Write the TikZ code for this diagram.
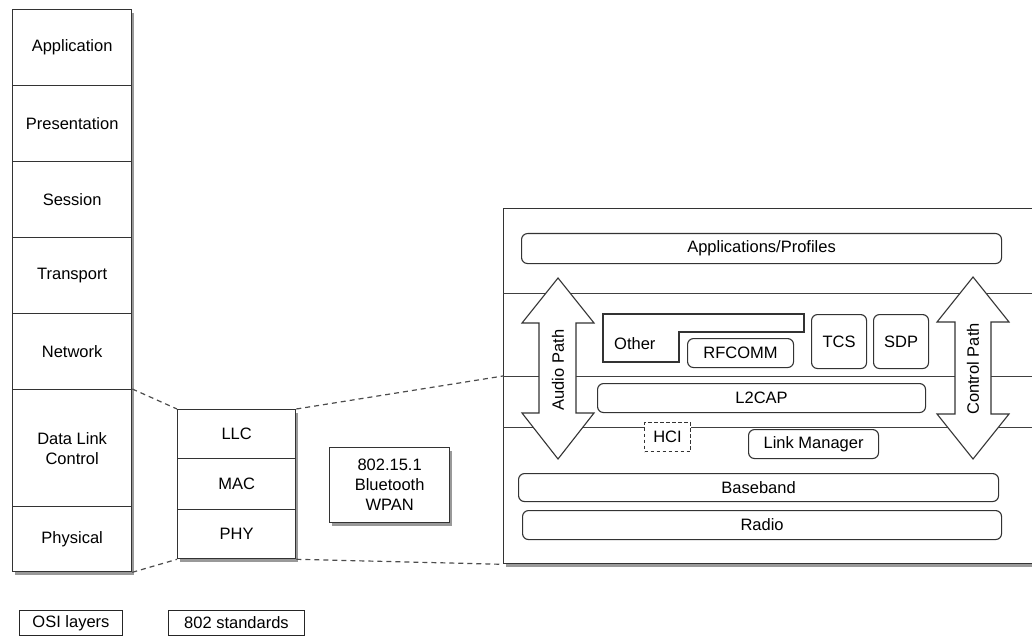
\documentclass[tikz,border=0pt]{standalone}
\usepackage{fontspec}
\setmainfont{Liberation Sans}
\usetikzlibrary{shadows}
\begin{document}
\begin{tikzpicture}[x=1pt,y=-1pt,
  font=\fontsize{16.5}{20}\selectfont,
  shad/.style={drop shadow={shadow xshift=2pt,shadow yshift=-3pt,opacity=0.4,fill=black}},
  layer/.style={draw=black!80,line width=1.3pt,fill=white,inner sep=2pt,align=center,anchor=north west},
  lbl/.style={draw=black!85,line width=0.9pt,fill=white,inner sep=0pt,anchor=north west},
  rbox/.style={draw=black!80,line width=1.1pt,rounded corners=6pt,fill=white,inner sep=0pt,anchor=north west},
  conn/.style={draw=black!70,line width=1.2pt,dash pattern=on 5pt off 4pt},
  sep/.style={draw=black!75,line width=1pt},
  arr/.style={draw=black!80,line width=1.1pt,fill=white,line join=miter}
]
\useasboundingbox (0,0) rectangle (1032,636);

% OSI stack
\node[layer,shad,minimum width=119pt,minimum height=76pt] (app) at (12,9) {Application};
\node[layer,shad,minimum width=119pt,minimum height=76pt] (pres) at (12,85) {Presentation};
\node[layer,shad,minimum width=119pt,minimum height=76pt] (sess) at (12,161) {Session};
\node[layer,shad,minimum width=119pt,minimum height=76pt] (trans) at (12,237) {Transport};
\node[layer,shad,minimum width=119pt,minimum height=76pt] (net) at (12,313) {Network};
\node[layer,shad,minimum width=119pt,minimum height=117pt] (dlc) at (12,389) {Data Link\\Control};
\node[layer,shad,minimum width=119pt,minimum height=65pt] (phys) at (12,506) {Physical};

% 802 stack
\node[layer,shad,minimum width=118pt,minimum height=49pt] (llc) at (177,409) {LLC};
\node[layer,shad,minimum width=118pt,minimum height=51pt] (mac) at (177,458) {MAC};
\node[layer,shad,minimum width=118pt,minimum height=49pt] (phy) at (177,509) {PHY};

% 802.15.1
\node[layer,shad,minimum width=120pt,minimum height=75pt] (wpan) at (329,447) {802.15.1\\Bluetooth\\WPAN};

% labels
\node[lbl,minimum width=103pt,minimum height=25pt] (osil) at (19,610) {OSI layers};
\node[lbl,minimum width=136pt,minimum height=25pt] (stdl) at (168,610) {802 standards};

% Bluetooth stack big box
\node[layer,shad,minimum width=545pt,minimum height=355pt] (bt) at (503,208) {};
\coordinate (s1w) at (503,293); \coordinate (s1e) at (1048,293);
\coordinate (s2w) at (503,376); \coordinate (s2e) at (1048,376);
\coordinate (s3w) at (503,427); \coordinate (s3e) at (1048,427);
\draw[sep] (s1w) -- (s1e);
\draw[sep] (s2w) -- (s2e);
\draw[sep] (s3w) -- (s3e);

\node[rbox,minimum width=480pt,minimum height=30pt] (apps) at (521,233) {Applications/Profiles};

% Audio path arrow
\draw[arr] (558,278) -- (594,323) -- (576,323) -- (576,413) -- (594,413) -- (558,459)
  -- (522,413) -- (539,413) -- (539,323) -- (522,323) -- cycle;
\node[rotate=90] (audio) at (558,370) {Audio Path};
% Control path arrow
\draw[arr] (973,277) -- (1009,322) -- (991,322) -- (991,414) -- (1009,414) -- (973,459)
  -- (937,414) -- (955,414) -- (955,322) -- (937,322) -- cycle;
\node[rotate=90] (control) at (973,369) {Control Path};

% Other polygon
\draw[draw=black!80,line width=1.1pt] (603,314) -- (804,314) -- (804,332) -- (679,332) -- (679,362) -- (603,362) -- cycle;
\node[anchor=west,inner sep=0pt] (other) at (614,344) {Other};
\node[rbox,minimum width=106pt,minimum height=29pt] (rfcomm) at (687,338) {RFCOMM};
\node[rbox,minimum width=55pt,minimum height=54pt] (tcs) at (811,314) {TCS};
\node[rbox,minimum width=55pt,minimum height=54pt] (sdp) at (873,314) {SDP};
\node[rbox,minimum width=328pt,minimum height=29pt] (l2cap) at (597,383) {L2CAP};
\node[draw=black!80,line width=1pt,dash pattern=on 3.5pt off 2.5pt,fill=white,inner sep=0pt,anchor=north west,minimum width=46pt,minimum height=29pt] (hci) at (644,422) {HCI};
\node[rbox,minimum width=130pt,minimum height=29pt] (lm) at (748,429) {Link Manager};
\node[rbox,minimum width=480pt,minimum height=28pt] (bb) at (518,473) {Baseband};
\node[rbox,minimum width=479pt,minimum height=29pt] (radio) at (522,510) {Radio};

% dashed connectors
\draw[conn] (dlc.north east) -- (llc.north west);
\draw[conn] (phys.south east) -- (phy.south west);
\draw[conn] (llc.north east) -- (s2w);
\draw[conn] (phy.south east) -- (bt.south west);
\end{tikzpicture}
\end{document}
